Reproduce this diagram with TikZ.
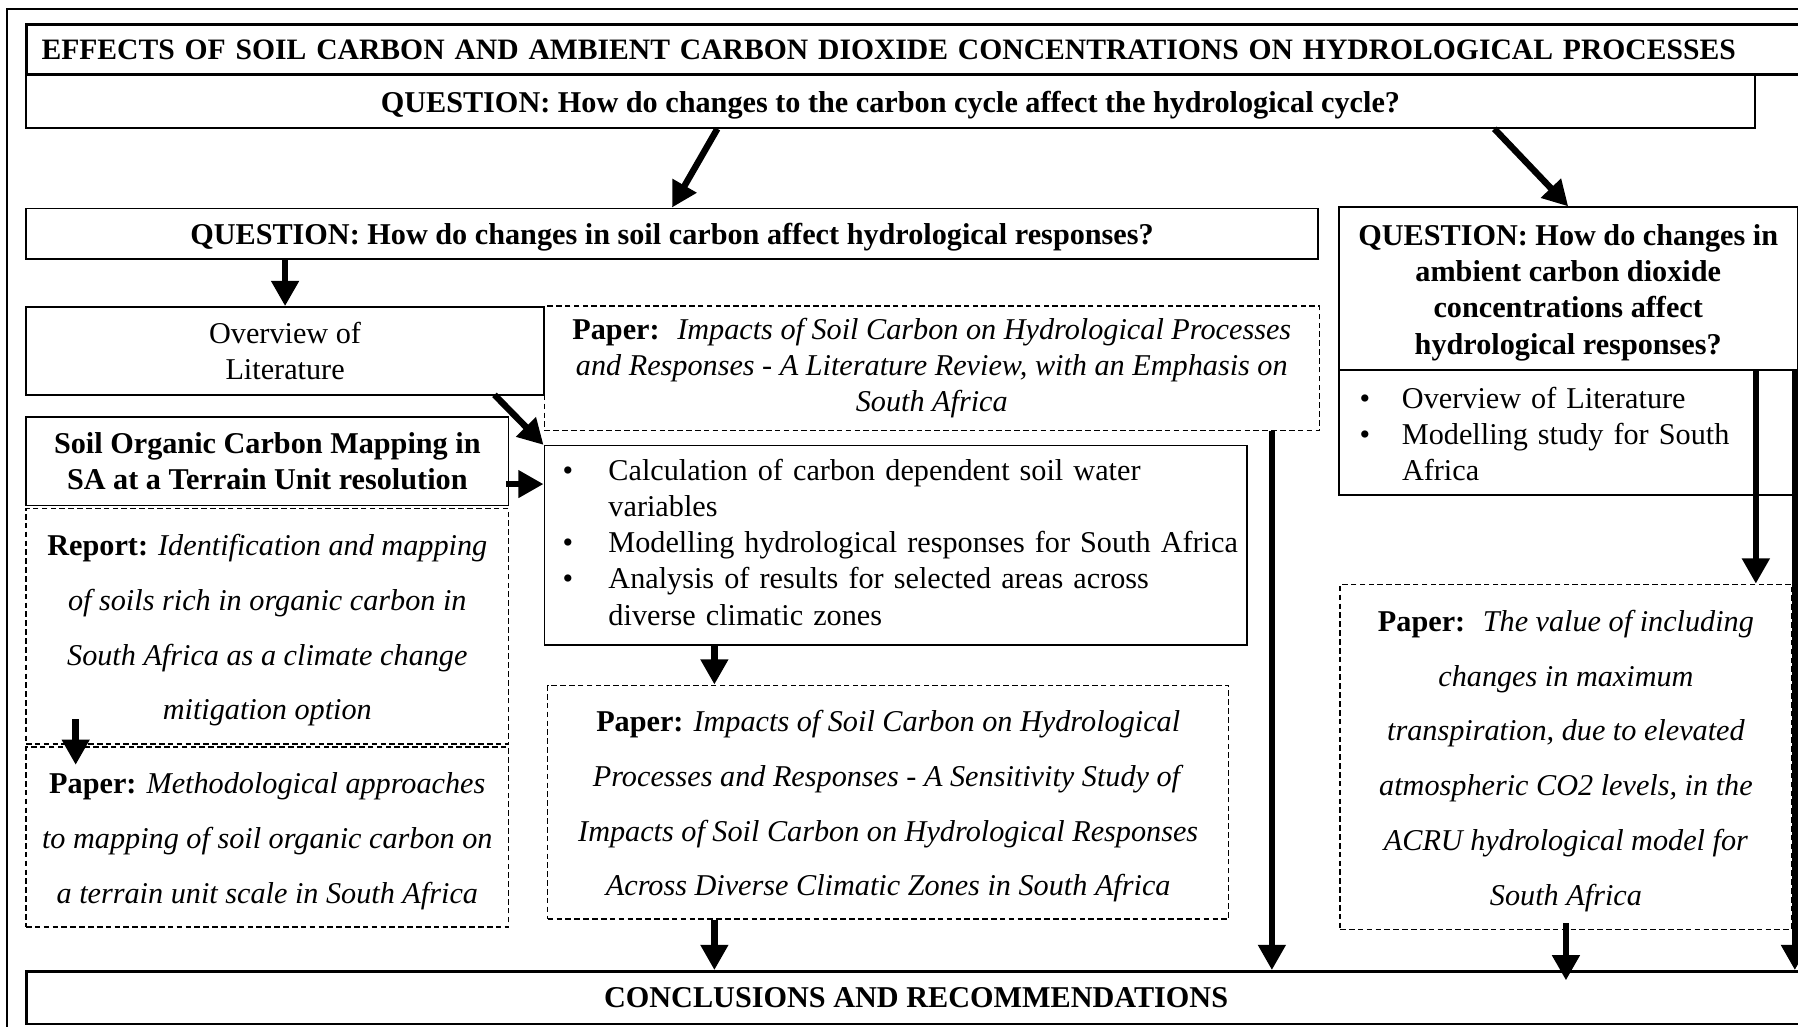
\documentclass[tikz,border=0pt]{standalone}
\usepackage{fontspec}
\setmainfont{Liberation Serif}
\usepackage{tikz}
\usetikzlibrary{calc, arrows.meta, positioning}
\newcommand{\boxfont}{\fontsize{15}{18}\selectfont}
\newcommand{\spreadfont}{\fontsize{15}{27.2}\selectfont}
\newcommand{\lift}{\rule{0pt}{14.5pt}}
\tikzset{
    boxnode/.style = {draw, rectangle, anchor=north west, inner sep=0em, line width=0.75pt, 
      align=center, font=\boxfont},
    dashnode/.style = {boxnode, dash pattern=on 2.8pt off 1.6pt},
    spreadnode/.style = {dashnode, font=\spreadfont},
    headnode/.style = {boxnode, line width=1.4pt, font=\boxfont\bfseries},
    questionnode/.style = {boxnode, font=\boxfont\bfseries},
    listnode/.style = {boxnode, align=left},
    connect/.style = {black, line width=3.2pt, -{Triangle[length=0.44cm, width=0.46cm]}}
}

\begin{document}
\begin{tikzpicture}[x=0.02cm, y=-0.02cm]
    \useasboundingbox (0,0) rectangle (1568,895);
    \clip (0,0) rectangle (1568,895);
    \fill[white] (0,0) rectangle (1568,895);
    \draw[line width=1pt] (6,8) rectangle (1600,910);
    \node[headnode, name=T, text width=31.2cm, inner xsep=0.26cm, align=left, minimum height=0.88cm, 
      font=\fontsize{14.7}{18}\selectfont\bfseries] at (22,20) 
      {EFFECTS OF SOIL CARBON AND AMBIENT CARBON DIOXIDE CONCENTRATIONS ON HYDROLOGICAL PROCESSES};
    \node[questionnode, name=Q1, minimum width=30.16cm, minimum height=0.94cm] at (22,64) 
      {\lift QUESTION: How do changes to the carbon cycle affect the hydrological cycle?};
    \node[questionnode, name=Q2, minimum width=22.54cm, minimum height=0.88cm] at (22,181) 
      {\lift QUESTION: How do changes in soil carbon affect hydrological responses?};
    \node[questionnode, name=Q3, minimum width=8cm, minimum height=2.84cm] at (1167,180) 
      {\lift QUESTION: How do changes in\\ ambient carbon dioxide\\ concentrations affect\\ hydrological responses?};
    \node[listnode, name=L3, text width=7.2cm, inner xsep=0.36cm, minimum height=2.18cm] at (1167,322) 
      {\begin{tabular}{@{}p{0.74cm}@{}l@{}}
        \rule{0pt}{17.2pt}\textbullet & Overview of Literature\\
        \textbullet & Modelling study for South\\
        & Africa
      \end{tabular}};
    \node[dashnode, name=P1, minimum width=13.52cm, minimum height=2.18cm] at (474,266) 
      {\textbf{Paper:} \ \textit{Impacts of Soil Carbon on Hydrological Processes}\\ 
       \textit{and Responses - A Literature Review, with an Emphasis on}\\ \textit{South Africa}};
    \node[boxnode, name=OL, minimum width=9.04cm, minimum height=1.54cm] at (22,267) {Overview of\\ Literature};
    \node[questionnode, name=SOC, minimum width=8.42cm, minimum height=1.54cm] at (22,363) 
      {Soil Organic Carbon Mapping in\\ SA at a Terrain Unit resolution};
    \node[listnode, name=B, text width=11.62cm, inner xsep=0.32cm, minimum height=3.48cm] at (474,388) 
      {\begin{tabular}{@{}p{0.8cm}@{}l@{}}
        \textbullet & Calculation of carbon dependent soil water\\
        & variables\\
        \textbullet & Modelling hydrological responses for South Africa\\
        \textbullet & Analysis of results for selected areas across\\
        & diverse climatic zones
      \end{tabular}};
    \node[spreadnode, name=R, minimum width=8.42cm, minimum height=4.1cm] at (22,443) 
      {\lift\textbf{Report:} \textit{Identification and mapping}\\ \textit{of soils rich in organic carbon in}\\ 
       \textit{South Africa as a climate change}\\ \textit{mitigation option}};
    \node[spreadnode, name=P3, minimum width=8.42cm, minimum height=3.14cm] at (22,651) 
      {\lift\textbf{Paper:} \textit{Methodological approaches}\\ \textit{to mapping of soil organic carbon on}\\ 
       \textit{a terrain unit scale in South Africa}};
    \node[spreadnode, name=P2, minimum width=11.88cm, minimum height=4.08cm] at (477,597) 
      {\lift\textbf{Paper:} \textit{Impacts of Soil Carbon on Hydrological}\\ 
       \textit{Processes and Responses - A Sensitivity Study of}\\ 
       \textit{Impacts of Soil Carbon on Hydrological Responses}\\ 
       \textit{Across Diverse Climatic Zones in South Africa}};
    \node[spreadnode, name=P4, minimum width=7.88cm, minimum height=6.02cm] at (1168,509) 
      {\lift\textbf{Paper:} \ \textit{The value of including}\\ \textit{changes in maximum}\\ 
       \textit{transpiration, due to elevated}\\ \textit{atmospheric CO2 levels, in the}\\ 
       \textit{ACRU hydrological model for}\\ \textit{South Africa}};
    \node[headnode, name=C, line width=1.2pt, minimum width=31.04cm, minimum height=0.92cm] at (22,846) 
      {CONCLUSIONS AND RECOMMENDATIONS};
    \coordinate (s1) at ($(SOC.east)+(-3,20)$);
    \coordinate (s2) at ($(B.south west)+(149,0)$);
    \coordinate (s3) at ($(P1.south east)+(-42,0)$);
    \coordinate (s4) at ($(R.south west)+(44,-22)$);
    \coordinate (s4e) at ($(P3.north west)+(44,16)$);
    \coordinate (s5) at ($(Q3.south east)+(-37,0)$);
    \coordinate (s6) at ($(Q3.south east)+(-3,0)$);
    \coordinate (s7) at ($(P4.south)+(0,-6)$);
    \coordinate (s7e) at ($(s7 |- C.north)+(0,9)$);
    \draw ($(Q1.south west)!0.4!(Q1.south east)$) edge[connect] (Q2.north);
    \draw ($(Q1.south west)!0.849!(Q1.south east)$) edge[connect] (Q3.north);
    \draw (OL.north |- Q2.south) edge[connect] (OL.north);
    \draw ($(OL.south east)+(-44,-1)$) edge[connect] (B.north west);
    \draw (s1) edge[connect] (s1 -| B.west);
    \draw (s2) edge[connect] (s2 |- P2.north);
    \draw (s2 |- P2.south) edge[connect] (s2 |- C.north);
    \draw (s3) edge[connect] (s3 |- C.north);
    \draw (s4) edge[connect] (s4e);
    \draw (s5) edge[connect] (s5 |- P4.north);
    \draw (s6) edge[connect] (s6 |- C.north);
    \draw (s7) edge[connect] (s7e);
\end{tikzpicture}
\end{document}
